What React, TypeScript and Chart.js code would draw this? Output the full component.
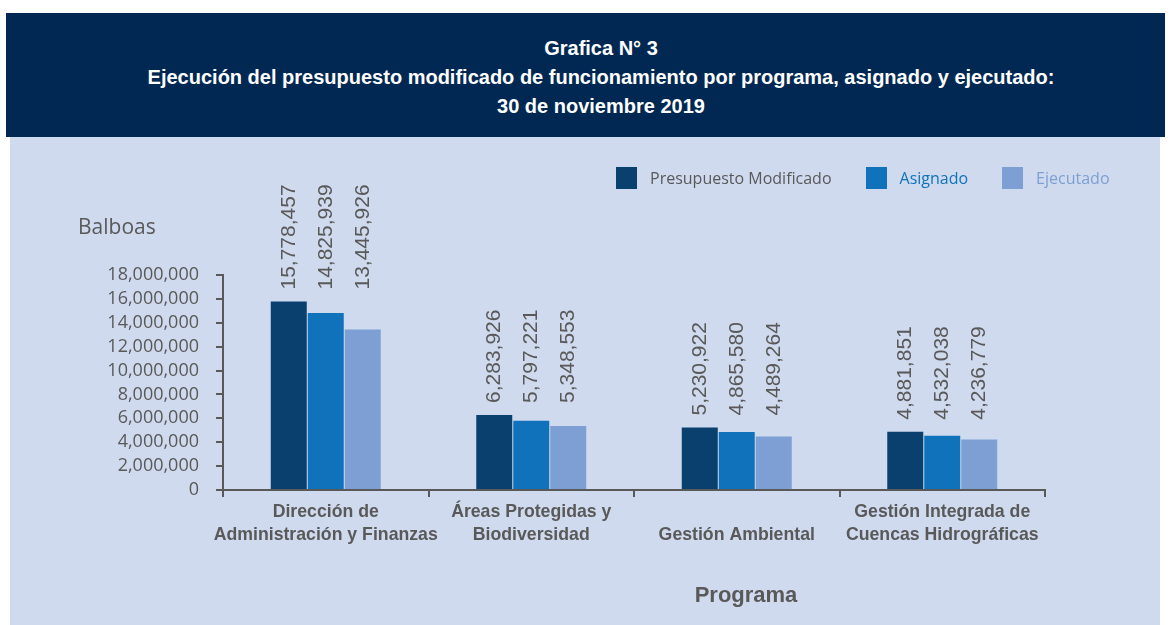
import React, { useEffect, useRef } from "react";
import { Chart, registerables } from "chart.js";

Chart.register(...registerables);

const CATEGORIES: string[][] = [
  ["Dirección de", "Administración y Finanzas"],
  ["Áreas Protegidas y", "Biodiversidad"],
  ["", "Gestión Ambiental"],
  ["Gestión Integrada de", "Cuencas Hidrográficas"],
];
const PRESUPUESTO_MODIFICADO = [15778457, 6283926, 5230922, 4881851];
const ASIGNADO = [14825939, 5797221, 4865580, 4532038];
const EJECUTADO = [13445926, 5348553, 4489264, 4236779];
const SERIES_NAMES = ["Presupuesto Modificado", "Asignado", "Ejecutado"];
const Y_MIN = 0;
const Y_MAX = 18000000;
const Y_STEP = 2000000;

const COLORS = ["#0a406e", "#0f72ba", "#7d9fd3"];
const LEGEND_TEXT_COLORS = ["#595959", "#0f72ba", "#7d9fd3"];
const GREY = "#595959";

const fmt = (v: number) => v.toLocaleString("en-US");

const valueLabelPlugin = {
  id: "valueLabels",
  afterDatasetsDraw(chart: any) {
    const ctx = chart.ctx;
    const metas = chart.data.datasets.map((_: any, i: number) => chart.getDatasetMeta(i));
    const n = chart.data.labels.length;
    ctx.save();
    ctx.font = '21px "Liberation Sans", Arial, sans-serif';
    ctx.fillStyle = GREY;
    ctx.textAlign = "left";
    ctx.textBaseline = "middle";
    for (let j = 0; j < n; j++) {
      const top = Math.min(...metas.map((m: any) => m.data[j].y));
      metas.forEach((m: any, i: number) => {
        const el = m.data[j];
        const v = chart.data.datasets[i].data[j];
        ctx.save();
        ctx.translate(el.x, top - 12);
        ctx.rotate(-Math.PI / 2);
        ctx.fillText(fmt(v), 0, 0);
        ctx.restore();
      });
    }
    ctx.restore();
  },
};

export default function App() {
  const ref = useRef<HTMLCanvasElement | null>(null);

  useEffect(() => {
    if (!ref.current) return;
    const chart = new Chart(ref.current, {
      type: "bar",
      data: {
        labels: CATEGORIES,
        datasets: [PRESUPUESTO_MODIFICADO, ASIGNADO, EJECUTADO].map((d, i) => ({
          label: SERIES_NAMES[i],
          data: d,
          backgroundColor: COLORS[i],
          borderWidth: 0,
          categoryPercentage: 0.54,
          barPercentage: 0.973,
        })),
      },
      options: {
        responsive: false,
        animation: false,
        layout: { padding: { left: 0, right: 115, top: 138, bottom: 0 } },
        plugins: {
          legend: { display: false },
          tooltip: { enabled: false },
          title: { display: false },
        },
        scales: {
          x: {
            offset: true,
            grid: {
              offset: true,
              drawOnChartArea: false,
              drawTicks: true,
              tickLength: 7,
              color: GREY,
              lineWidth: 2,
            },
            border: { color: GREY, width: 2 },
            ticks: {
              color: GREY,
              font: { family: '"Liberation Sans", Arial, sans-serif', weight: "bold", size: 17.7, lineHeight: 23 / 17.7 },
              padding: 4,
              maxRotation: 0,
              autoSkip: false,
            },
            afterFit: (s: any) => {
              s.height = 135;
            },
          },
          y: {
            min: Y_MIN,
            max: Y_MAX,
            ticks: {
              stepSize: Y_STEP,
              autoSkip: false,
              color: GREY,
              font: { family: '"Open Sans", sans-serif', size: 18, lineHeight: 1 },
              padding: 17,
              callback: (v: any) => fmt(Number(v)),
            },
            grid: {
              drawOnChartArea: false,
              drawTicks: true,
              tickLength: 7,
              color: GREY,
              lineWidth: 2,
            },
            border: { color: GREY, width: 2 },
            afterFit: (s: any) => {
              s.width = 213;
            },
          },
        },
      } as any,
      plugins: [valueLabelPlugin],
    });
    return () => chart.destroy();
  }, []);

  return (
    <div style={{ position: "absolute", left: 0, top: 0, width: 1174, height: 625, background: "#ffffff", overflow: "hidden" }}>
      <div style={{ position: "absolute", left: 6, top: 13, width: 1159, height: 124, background: "#002852" }} />
      <div
        style={{
          position: "absolute",
          left: 601,
          top: 34,
          transform: "translateX(-50%)",
          whiteSpace: "nowrap",
          textAlign: "center",
          color: "#ffffff",
          fontFamily: '"Liberation Sans", Arial, sans-serif',
          fontWeight: "bold",
          fontSize: 20,
          lineHeight: "29px",
        }}
      >
        <div>Grafica N° 3</div>
        <div>Ejecución del presupuesto modificado de funcionamiento por programa, asignado y ejecutado:</div>
        <div>30 de noviembre 2019</div>
      </div>
      <div style={{ position: "absolute", left: 10, top: 137, width: 1150, height: 488, background: "#cfdaee" }}>
        <canvas ref={ref} width={1150} height={488} style={{ display: "block", width: 1150, height: 488 }} />
      </div>
      <div
        style={{
          position: "absolute",
          left: 78,
          top: 216,
          fontFamily: '"Open Sans", sans-serif',
          fontSize: 21,
          lineHeight: "21px",
          color: GREY,
        }}
      >
        Balboas
      </div>
      <div
        style={{
          position: "absolute",
          left: 616,
          top: 167,
          display: "flex",
          alignItems: "center",
          fontFamily: '"Open Sans", sans-serif',
          fontSize: 16,
          lineHeight: "22px",
          whiteSpace: "nowrap",
        }}
      >
        {SERIES_NAMES.map((name, i) => (
          <div key={name} style={{ display: "flex", alignItems: "center", marginRight: 34 }}>
            <div style={{ width: 21, height: 22, background: COLORS[i], marginRight: 13 }} />
            <span style={{ color: LEGEND_TEXT_COLORS[i] }}>{name}</span>
          </div>
        ))}
      </div>
      <div
        style={{
          position: "absolute",
          left: 746,
          top: 584,
          transform: "translateX(-50%)",
          fontFamily: '"Liberation Sans", Arial, sans-serif',
          fontWeight: "bold",
          fontSize: 22,
          lineHeight: "22px",
          color: GREY,
          whiteSpace: "nowrap",
        }}
      >
        Programa
      </div>
    </div>
  );
}
